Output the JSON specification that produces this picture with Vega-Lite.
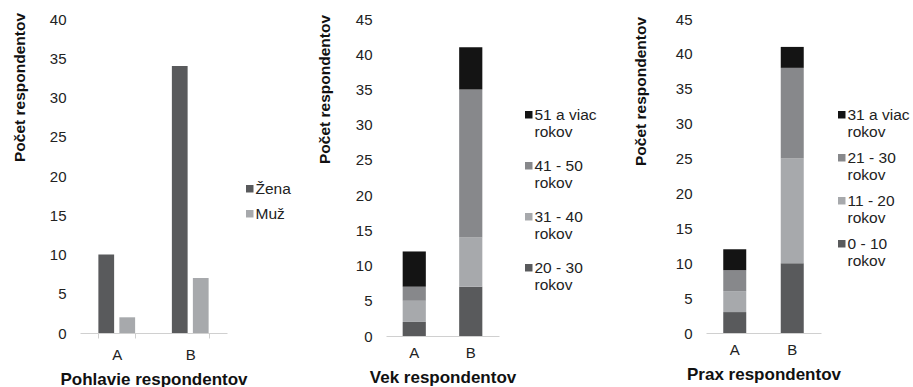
{
  "$schema": "https://vega.github.io/schema/vega-lite/v6.json",
  "padding": {"left": 12, "top": 12, "right": 0, "bottom": 0},
  "background": "white",
  "bounds": "flush",
  "spacing": 159,
  "resolve": {"scale": {"color": "independent", "x": "independent", "y": "independent"}, "legend": {"color": "independent"}},
  "config": {
    "font": "Liberation Sans",
    "view": {"stroke": null},
    "axis": {"labelFont": "Liberation Sans", "labelFontSize": 15, "labelColor": "#222222", "titleFont": "Liberation Sans", "titleFontSize": 15.5, "titleFontWeight": "bold", "titleColor": "#111111", "grid": false},
    "axisY": {"domain": false, "ticks": false, "labelPadding": 14, "titleAngle": 270, "titleBaseline": "middle", "titleAlign": "center"},
    "axisX": {"domainColor": "#d0d0d0", "labelAngle": 0, "labelPadding": 9, "titlePadding": 9, "titleFontSize": 17, "ticks": false},
    "legend": {"labelFont": "Liberation Sans", "labelFontSize": 15.5, "labelColor": "#222222", "symbolType": "square", "symbolSize": 56, "symbolStrokeWidth": 0, "labelOffset": -2, "labelBaseline": "middle", "orient": "none"}
  },
  "hconcat": [
    {
      "width": 147,
      "height": 314,
      "data": {"values": [
        {"skupina": "A", "pohlavie": "Žena", "pocet": 10},
        {"skupina": "A", "pohlavie": "Muž", "pocet": 2},
        {"skupina": "B", "pohlavie": "Žena", "pocet": 34},
        {"skupina": "B", "pohlavie": "Muž", "pocet": 7}
      ]},
      "mark": {"type": "bar"},
      "encoding": {
        "x": {"field": "skupina", "type": "nominal", "scale": {"paddingInner": 0.5, "paddingOuter": 0.25}, "axis": {"title": "Pohlavie respondentov", "ticks": true, "tickBand": "extent", "tickColor": "#d0d0d0", "tickSize": 5}},
        "xOffset": {"field": "pohlavie", "type": "nominal", "sort": ["Žena", "Muž"], "scale": {"paddingInner": 0.25, "paddingOuter": 0}},
        "y": {"field": "pocet", "type": "quantitative", "scale": {"domain": [0, 40]}, "axis": {"values": [0, 5, 10, 15, 20, 25, 30, 35, 40], "title": "Počet respondentov", "titleX": -61, "titleY": 68}},
        "color": {"field": "pohlavie", "type": "nominal", "scale": {"domain": ["Žena", "Muž"], "range": ["#595a5c", "#a7a9ac"]}, "legend": {"title": null, "legendX": 162, "legendY": 162, "rowPadding": 8}}
      }
    },
    {
      "width": 161,
      "height": 317,
      "data": {"values": [
        {"skupina": "A", "vek": "20 - 30 rokov", "pocet": 2},
        {"skupina": "A", "vek": "31 - 40 rokov", "pocet": 3},
        {"skupina": "A", "vek": "41 - 50 rokov", "pocet": 2},
        {"skupina": "A", "vek": "51 a viac rokov", "pocet": 5},
        {"skupina": "B", "vek": "20 - 30 rokov", "pocet": 7},
        {"skupina": "B", "vek": "31 - 40 rokov", "pocet": 7},
        {"skupina": "B", "vek": "41 - 50 rokov", "pocet": 21},
        {"skupina": "B", "vek": "51 a viac rokov", "pocet": 6}
      ]},
      "mark": {"type": "bar"},
      "encoding": {
        "x": {"field": "skupina", "type": "nominal", "scale": {"range": [0, 113], "paddingInner": 0.59, "paddingOuter": 0.295}, "axis": {"title": "Vek respondentov", "titleX": 56.5}},
        "y": {"field": "pocet", "type": "quantitative", "stack": "zero", "scale": {"domain": [0, 45]}, "axis": {"values": [0, 5, 10, 15, 20, 25, 30, 35, 40, 45], "title": "Počet respondentov", "titleX": -62, "titleY": 70}},
        "order": {"field": "vek", "type": "nominal", "sort": "ascending"},
        "color": {"field": "vek", "type": "nominal", "scale": {"domain": ["51 a viac rokov", "41 - 50 rokov", "31 - 40 rokov", "20 - 30 rokov"], "range": ["#141414", "#87888b", "#a7a9ac", "#595a5c"]}, "legend": {"title": null, "legendX": 135, "legendY": 88, "rowPadding": 17, "labelExpr": "[replace(datum.label, ' rokov', ''), 'rokov']"}}
      }
    },
    {
      "width": 115,
      "height": 314,
      "data": {"values": [
        {"skupina": "A", "prax": "0 - 10 rokov", "pocet": 3},
        {"skupina": "A", "prax": "11 - 20 rokov", "pocet": 3},
        {"skupina": "A", "prax": "21 - 30 rokov", "pocet": 3},
        {"skupina": "A", "prax": "31 a viac rokov", "pocet": 3},
        {"skupina": "B", "prax": "0 - 10 rokov", "pocet": 10},
        {"skupina": "B", "prax": "11 - 20 rokov", "pocet": 15},
        {"skupina": "B", "prax": "21 - 30 rokov", "pocet": 13},
        {"skupina": "B", "prax": "31 a viac rokov", "pocet": 3}
      ]},
      "mark": {"type": "bar"},
      "encoding": {
        "x": {"field": "skupina", "type": "nominal", "scale": {"paddingInner": 0.6, "paddingOuter": 0.3}, "axis": {"title": "Prax respondentov"}},
        "y": {"field": "pocet", "type": "quantitative", "stack": "zero", "scale": {"domain": [0, 45]}, "axis": {"values": [0, 5, 10, 15, 20, 25, 30, 35, 40, 45], "title": "Počet respondentov", "titleX": -66, "titleY": 72}},
        "order": {"field": "prax", "type": "nominal", "sort": "ascending"},
        "color": {"field": "prax", "type": "nominal", "scale": {"domain": ["31 a viac rokov", "21 - 30 rokov", "11 - 20 rokov", "0 - 10 rokov"], "range": ["#141414", "#87888b", "#a7a9ac", "#595a5c"]}, "legend": {"title": null, "legendX": 128, "legendY": 88, "rowPadding": 9, "labelExpr": "[replace(datum.label, ' rokov', ''), 'rokov']"}}
      }
    }
  ]
}
